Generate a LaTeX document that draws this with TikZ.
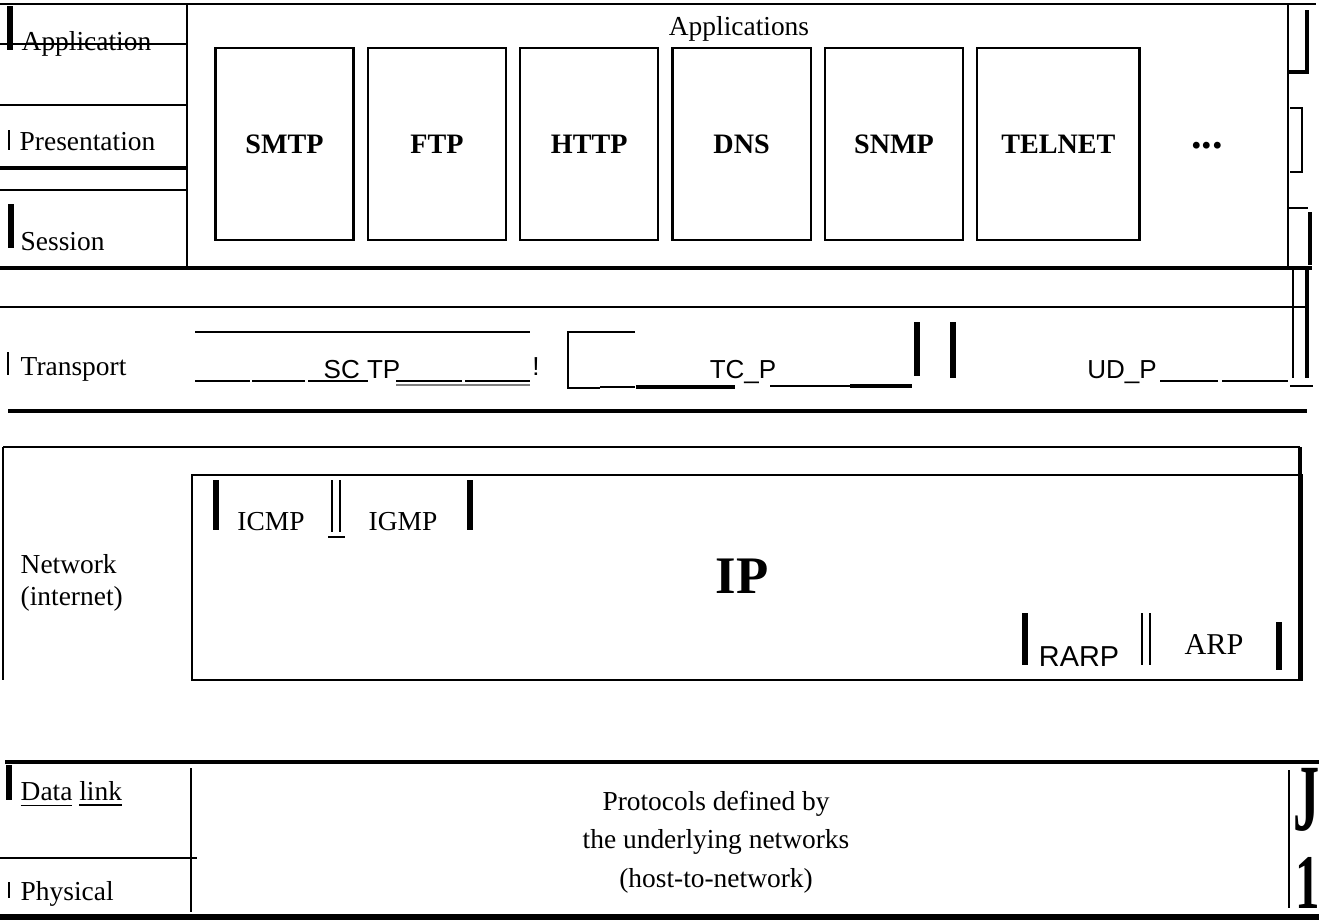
\documentclass[tikz,border=0pt]{standalone}
\usepackage{fontspec}
\setmainfont{Liberation Serif}
\setsansfont{Liberation Sans}
\usetikzlibrary{positioning}

\begin{document}
\begin{tikzpicture}[
  x=0.01cm, y=-0.01cm,
  rule/.style={line width=0.45pt},
  heavy/.style={line width=1.2pt},
  bar/.style={line width=1.5pt},
  slim/.style={line width=0.6pt},
  layer/.style={anchor=base west, inner sep=0pt, font=\fontsize{7.8}{9}\selectfont},
  appl/.style={draw, line width=0.65pt, minimum width=1.38cm, minimum height=1.92cm, inner sep=0pt, font=\bfseries\fontsize{8}{9}\selectfont},
  proto/.style={anchor=base, inner sep=0pt, font=\fontsize{7.8}{9}\selectfont},
  sproto/.style={anchor=base, inner sep=0pt, font=\sffamily\fontsize{7.4}{9}\selectfont},
  glyph/.style={anchor=north west, inner sep=0pt, transform shape, xscale=0.55, font=\bfseries\fontsize{27}{28}\selectfont}
]
\useasboundingbox (0,0) rectangle (1319,923);

% --- Upper layers: application, presentation, session ---
\draw[rule] (0,4) -- (1316,4);
\draw[rule] (187,4) -- (187,268);
\draw[rule] (1288,4) -- (1288,268);
\draw[rule] (0,44) -- (187,44);
\draw[rule] (0,105) -- (187,105);
\draw[heavy] (0,168) -- (187,168);
\draw[rule] (0,190) -- (187,190);
\draw[heavy] (0,268) -- (1312,268);

\node[layer] (app) at (21,50) {Application};
\node[layer] (pres) at (19,150) {Presentation};
\node[layer] (sess) at (20,250) {Session};
\draw[bar] (10,6) -- (10,50);
\draw[slim] (9,130) -- (9,150);
\draw[bar] (11,204) -- (11,248);

\node[proto] (apps) at (739,35) {Applications};

% application protocols
\node[appl] (smtp) at (284.5,144) {SMTP};
\node[appl, right=0.12cm of smtp] (ftp) {FTP};
\node[appl, right=0.12cm of ftp] (http) {HTTP};
\node[appl, right=0.12cm of http] (dns) {DNS};
\node[appl, right=0.12cm of dns] (snmp) {SNMP};
\node[appl, right=0.12cm of snmp, minimum width=1.62cm] (telnet) {TELNET};
\node[font=\bfseries\fontsize{12}{12}\selectfont] (more) at (1207,146) {...};

% marks along the right edge
\draw[heavy] (1307,10) -- (1307,72) -- (1288,72);
\draw[slim] (1290,108) -- (1302,108) -- (1302,172) -- (1290,172);
\draw[slim] (1288,208) -- (1308,208);
\draw[heavy] (1310,212) -- (1310,265);
\draw[slim] (1293,268) -- (1293,378);
\draw[heavy] (1307,268) -- (1307,378);
\draw[rule] (1290,386) -- (1313,386);

% --- Transport layer ---
\draw[rule] (0,307) -- (1305,307);
\node[layer] (trans) at (20,375) {Transport};
\draw[slim] (8,352) -- (8,375);

% SCTP
\draw[slim] (195,332) -- (530,332);
\draw[slim] (195,381) -- (250,381);
\draw[slim] (252,381) -- (305,381);
\draw[slim] (308,381) -- (368,381);
\draw[slim] (396,381) -- (462,381);
\draw[slim] (465,381) -- (530,381);
\draw[rule, gray] (396,385) -- (530,385);
\node[sproto] (sctp) at (362,378) {SC TP};
\node[sproto] (bang) at (536,375) {!};

% TCP
\draw[slim] (635,332) -- (568,332) -- (568,388) -- (600,388);
\draw[slim] (600,387) -- (635,387);
\draw[heavy] (636,387) -- (735,387);
\draw[slim] (770,386) -- (850,386);
\draw[heavy] (850,386) -- (912,386);
\node[sproto] (tcp) at (743,378) {TC\_P};
\draw[bar] (917,322) -- (917,376);
\draw[bar] (953,322) -- (953,378);

% UDP
\node[sproto] (udp) at (1122,378) {UD\_P};
\draw[slim] (1160,381) -- (1218,381);
\draw[slim] (1222,381) -- (1288,381);

\draw[heavy] (8,411) -- (1307,411);

% --- Network layer ---
\draw[rule] (3,447) -- (1300,447);
\draw[rule] (3,447) -- (3,680);
\draw[heavy] (1300,447) -- (1300,680);
\draw[rule] (192,475) rectangle (1302,680);

\node[layer] (net) at (20,573) {Network};
\node[layer] (inet) at (20,605) {(internet)};

\node[proto] (icmp) at (271,530) {ICMP};
\node[proto] (igmp) at (403,530) {IGMP};
\draw[bar] (216,480) -- (216,530);
\draw[slim] (332,480) -- (332,532);
\draw[slim] (340,480) -- (340,532);
\draw[rule] (328,537) -- (345,537);
\draw[bar] (470,480) -- (470,530);

\node[proto, font=\bfseries\fontsize{15}{16}\selectfont] (ip) at (742,593) {IP};

\node[sproto, font=\sffamily\fontsize{8.2}{9}\selectfont] (rarp) at (1079,666) {RARP};
\node[proto, font=\fontsize{8.6}{9}\selectfont] (arp) at (1214,654) {ARP};
\draw[bar] (1025,613) -- (1025,665);
\draw[slim] (1142,613) -- (1142,665);
\draw[slim] (1150,613) -- (1150,665);
\draw[bar] (1279,622) -- (1279,670);

% --- Data link and physical layers ---
\draw[heavy] (5,762) -- (1319,762);
\draw[slim] (191,768) -- (191,912);
\draw[slim] (0,858) -- (197,858);
\draw[rule] (1289,770) -- (1289,908);
\draw[line width=1.8pt] (0,917) -- (1319,917);

\node[layer] (dlink) at (20,800) {\underline{Data} \underline{link}};
\node[layer] (phys) at (20,900) {Physical};
\draw[bar] (9,765) -- (9,800);
\draw[slim] (9,882) -- (9,898);

\node[proto, align=center, font=\fontsize{7.8}{11}\selectfont, anchor=north] (hostnet) at (716,790)
  {Protocols defined by\\the underlying networks\\(host-to-network)};

\node[glyph] (jmark) at (1293,768) {J};
\node[glyph, xscale=1.15, font=\bfseries\fontsize{22}{23}\selectfont] (onemark) at (1295,857) {1};

\end{tikzpicture}
\end{document}
